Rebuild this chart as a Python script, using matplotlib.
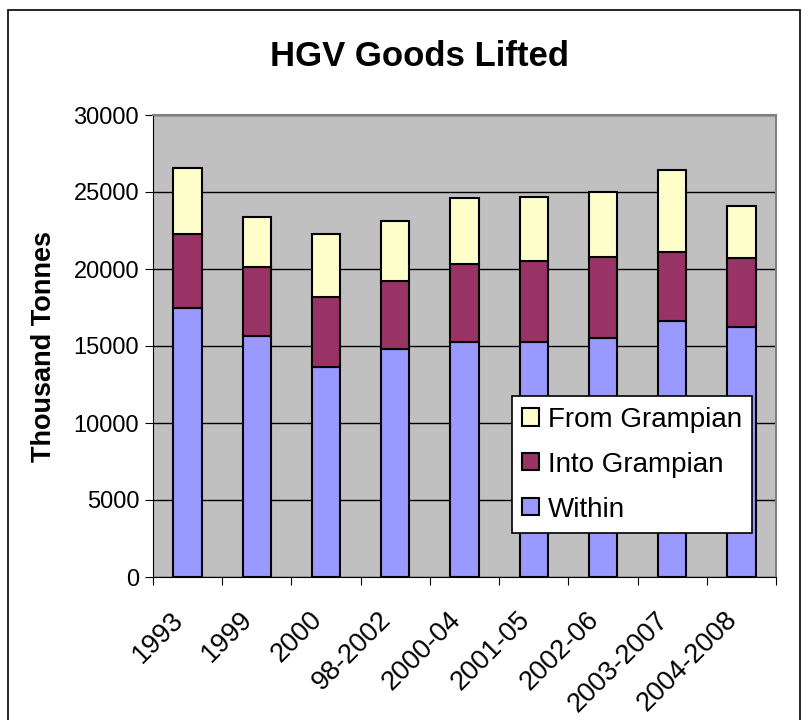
import numpy as np
import matplotlib.pyplot as plt
from matplotlib.patches import Rectangle
from matplotlib.transforms import ScaledTranslation

plt.rcParams['font.family'] = ['Liberation Sans', 'DejaVu Sans']

# data (thousand tonnes)
periods = ['1993', '1999', '2000', '98-2002', '2000-04', '2001-05',
           '2002-06', '2003-2007', '2004-2008']
within = [17500, 15650, 13650, 14800, 15250, 15250, 15500, 16650, 16250]
into_grampian = [4750, 4450, 4500, 4450, 5050, 5250, 5300, 4450, 4450]
from_grampian = [4300, 3300, 4100, 3850, 4300, 4200, 4200, 5300, 3400]

fig = plt.figure(figsize=(8.08, 7.2), dpi=100)
ax = fig.add_axes([153 / 808, 1 - 577 / 720, 623 / 808, 462 / 720])

# outer chart frame
fig.patches.append(Rectangle((8 / 808, -0.01), 792 / 808, 1 - 10 / 720 + 0.01,
                             transform=fig.transFigure, fill=False,
                             edgecolor='black', linewidth=1.2))

x = np.arange(len(periods))
w = 0.41
within = np.array(within)
into_grampian = np.array(into_grampian)
from_grampian = np.array(from_grampian)

b1 = ax.bar(x, within, w, color='#9999FF', edgecolor='black', linewidth=1.5,
            label='Within', zorder=3)
b2 = ax.bar(x, into_grampian, w, bottom=within, color='#993366',
            edgecolor='black', linewidth=1.5, label='Into Grampian', zorder=3)
b3 = ax.bar(x, from_grampian, w, bottom=within + into_grampian,
            color='#FFFFCC', edgecolor='black', linewidth=1.5,
            label='From Grampian', zorder=3)

ax.set_facecolor('#C0C0C0')
ax.set_xlim(-0.5, len(periods) - 0.5)
ax.set_ylim(0, 30000)
ax.set_yticks(np.arange(0, 30001, 5000))
ax.yaxis.grid(True, color='black', linewidth=1, zorder=1)
ax.set_axisbelow(True)

# ticks between categories, labels under bars
ax.set_xticks(np.arange(-0.5, len(periods), 1.0))
ax.set_xticklabels([])
ax.set_xticks(x, minor=True)
ax.set_xticklabels(periods, minor=True, rotation=45, ha='right',
                   va='center', rotation_mode='anchor', fontsize=19.5)
ax.tick_params(axis='x', which='minor', length=0, pad=28)
ax.tick_params(axis='x', which='major', length=6, direction='out')
ax.tick_params(axis='y', length=6, direction='out', labelsize=17, pad=4)
shift = ScaledTranslation(-8 / 100, 0, fig.dpi_scale_trans)
for lbl in ax.get_xticklabels(minor=True):
    lbl.set_transform(lbl.get_transform() + shift)

for side in ['top', 'right']:
    ax.spines[side].set_color('#808080')
    ax.spines[side].set_linewidth(1.5)
for side in ['left', 'bottom']:
    ax.spines[side].set_color('black')

ax.set_ylabel('Thousand Tonnes', fontsize=19.5, fontweight='bold', labelpad=12)
fig.text(419 / 808, 1 - 57 / 720, 'HGV Goods Lifted',
         ha='center', va='center', fontsize=25, fontweight='bold')

leg = ax.legend(handles=[b3, b2, b1], loc='lower left',
                bbox_to_anchor=(0.576, 0.095), fontsize=20, frameon=True,
                fancybox=False, edgecolor='black', framealpha=1,
                handlelength=0.58, handleheight=0.58, handletextpad=0.33,
                borderpad=0.38, labelspacing=0.68, borderaxespad=0)
leg.get_frame().set_linewidth(1.2)
leg.set_zorder(5)

plt.savefig('out.png', dpi=100)
